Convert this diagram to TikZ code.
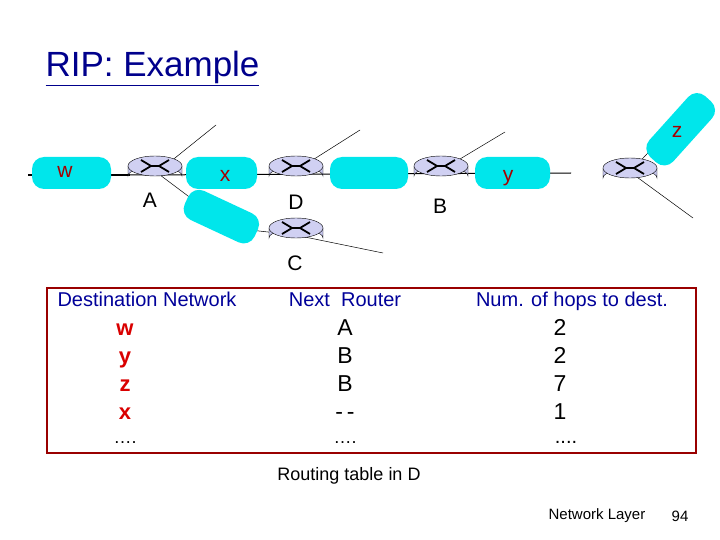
\documentclass[tikz,border=0pt]{standalone}
\usepackage{fontspec}
\setmainfont{Liberation Sans}
\definecolor{blobc}{RGB}{0,230,235}
\definecolor{routc}{RGB}{200,200,240}
\begin{document}
\begin{tikzpicture}[x=1pt,y=-1pt,
  blob/.style={fill=blobc, rounded corners=12pt, draw=none},
  rlink/.style={black, line width=0.5pt},
  lbl/.style={font=\fontsize{21}{24}\selectfont},
  net/.style={font=\fontsize{21}{24}\selectfont, text=red!65!black},
  hdr/.style={font=\fontsize{20}{24}\selectfont, text=blue!60!black, anchor=base},
  dest/.style={font=\bfseries\fontsize{22}{24}\selectfont, text=red!85!black, anchor=base},
  ent/.style={font=\fontsize{23}{24}\selectfont, anchor=base},
  router/.pic={
    \fill[routc,draw=black,line width=0.4pt] (-27,0) -- (-27,10) arc[start angle=180,end angle=360,x radius=27,y radius=9] -- (27,0) -- cycle;
    \fill[routc!85!white,draw=black,line width=0.4pt] (0,0) ellipse[x radius=27,y radius=10];
    \draw[line width=1.8pt] (-14,-6) -- (-4,0) -- (-14,6) (14,-6) -- (4,0) -- (14,6) (-4,0) -- (4,0);
  }]
\useasboundingbox (0,0) rectangle (720,540);
% title
\node[anchor=west, font=\fontsize{35}{38}\selectfont, text=blue!55!black] (title) at (42,68) {\underline{RIP: Example}};
% links
\coordinate (l0) at (28,175); \coordinate (l1) at (571,173);
\draw[line width=1.2pt] (l0) -- (130,175);
\draw[line width=1pt] (130,175) -- (l1);
\coordinate (au) at (216,125); \coordinate (du) at (360,130); \coordinate (bu) at (505,132);
\coordinate (ra) at (693,218); \coordinate (cr) at (383,253);
\draw[rlink] (160,170) -- (au);
\draw[rlink] (300,168) -- (du);
\draw[rlink] (445,168) -- (bu);
\draw[rlink] (160,175) -- (200,205);
\draw[rlink] (250,230) -- (295,235) -- (cr);
\draw[rlink] (630,172) -- (ra);
\draw[rlink] (630,172) -- (660,140);
% blobs
\fill[blob] (32,157) rectangle (111,189);
\fill[blob] (186,157) rectangle (257,189);
\fill[blob] (330,157) rectangle (408,189);
\fill[blob] (475,157) rectangle (550,189);
\fill[blob, rotate around={-25:(220,216)}] (183,200) rectangle (260,232);
\fill[blob, rotate around={48:(680,130)}] (640,114) rectangle (722,146);
% routers
\pic at (155,166) {router};
\pic at (296,166) {router};
\pic at (441,166) {router};
\pic at (630,168) {router};
\pic at (296,228) {router};
% labels
\node[net] (nw) at (65,172) {w};
\node[net] (nx) at (225,176) {x};
\node[net] (ny) at (508,178) {y};
\node[net] (nz) at (677,132) {z};
\node[lbl] (lA) at (150,200) {A};
\node[lbl] (lD) at (296,202) {D};
\node[lbl] (lB) at (440,206) {B};
\node[lbl] (lC) at (295,263) {C};
% table
\draw[red!60!black, line width=1.2pt] (47,288) rectangle (696,453);
\node[hdr] (h1) at (147,306) {Destination Network};
\node[hdr] (h2) at (345,306) {Next\ \ Router};
\node[hdr] (h3) at (572,306) {Num. of hops to dest.};
\foreach \y/\d/\n/\h in {335/w/A/2, 363/y/B/2, 391/z/B/7, 419/x/{-\,-}/1} {
  \node[dest] at (125,\y) {\d};
  \node[ent] at (345,\y) {\n};
  \node[ent] at (560,\y) {\h};
}
\node[font=\fontsize{18}{20}\selectfont, anchor=base] at (125,443) {\dots.};
\node[font=\fontsize{18}{20}\selectfont, anchor=base] at (345,443) {\dots.};
\node[font=\fontsize{20}{20}\selectfont, anchor=base] at (566,443) {....};
\node[font=\fontsize{18}{20}\selectfont] (cap) at (349,476) {Routing table in D};
\node[font=\fontsize{15}{16}\selectfont] (foot) at (597,516) {Network Layer};
\node[font=\fontsize{15}{16}\selectfont] (pg) at (680,516) {94};
\end{tikzpicture}
\end{document}
